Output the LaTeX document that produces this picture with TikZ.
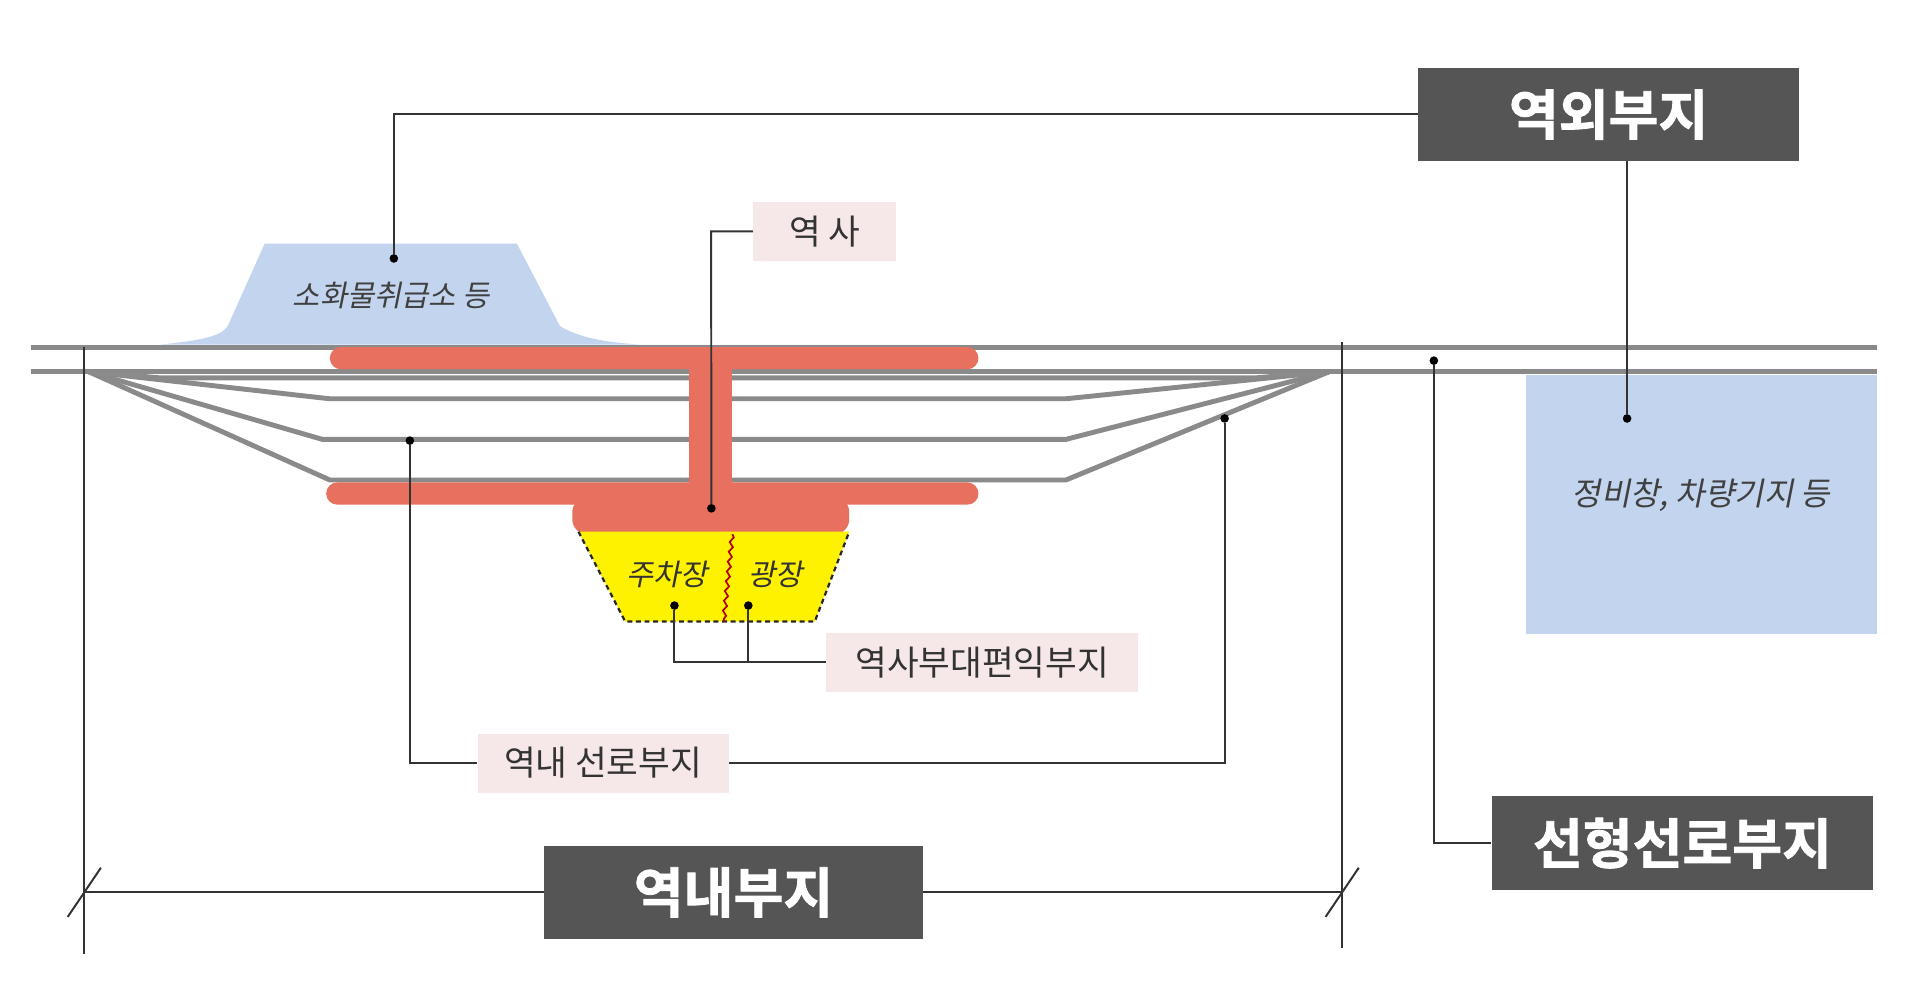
\documentclass[tikz,border=0pt]{standalone}
\usepackage{fontspec}
\setmainfont{Noto Sans CJK KR}
\newfontfamily\krit[FakeSlant=0.2]{Noto Sans CJK KR}
\newfontfamily\krb[BoldFont=*,FakeBold=1.5]{Noto Sans CJK KR Bold}
\usetikzlibrary{decorations.pathmorphing}
\definecolor{boxgray}{HTML}{555555}
\definecolor{track}{HTML}{8A8A8A}
\definecolor{redb}{HTML}{E8705E}
\definecolor{blueb}{HTML}{C2D4EE}
\definecolor{pinkl}{HTML}{F6E8E8}
\begin{document}
\begin{tikzpicture}[x=1pt,y=-1pt,
  bigbox/.style={fill=boxgray,text=white,font=\krb\fontsize{44}{48}\selectfont,minimum height=76pt,inner sep=0pt},
  lab/.style={fill=pinkl,text=black!80,font=\fontsize{28}{30}\selectfont,minimum height=48pt,inner sep=6pt},
  ln/.style={line width=1.6pt,black!80},
  tr/.style={line width=4pt,track,line join=round},
  dot/.style={circle,fill=black,inner sep=0pt,minimum size=7pt}]
\useasboundingbox (0,0) rectangle (1560,812);
% blue shapes
\fill[blueb] (130,280) .. controls (170,276) and (180,272) .. (185,265) -- (215,198) -- (420,198) -- (455,265) .. controls (470,274) and (490,278) .. (520,280) -- cycle;
\node[font=\krit\fontsize{24}{26}\selectfont,text=black!75] (sh) at (318,240) {소화물취급소 등};
\fill[blueb] (1240,305) rectangle (1525,515);
\node[font=\krit\fontsize{26}{28}\selectfont,text=black!75] (jb) at (1382,402) {정비창, 차량기지 등};
% tracks
\draw[tr] (25,282) -- (1525,282);
\draw[tr] (25,302) -- (1525,302);
\draw[tr] (72,302) -- (130,307) -- (1020,307) -- (1080,302);
\draw[tr] (72,302) -- (268,324) -- (866,324) -- (1080,302);
\draw[tr] (72,302) -- (262,357) -- (866,357) -- (1080,302);
\draw[tr] (72,302) -- (268,390) -- (866,390) -- (1080,302);
% red station
\fill[redb,rounded corners=9pt] (268,282) rectangle (795,300);
\fill[redb,rounded corners=9pt] (265,392) rectangle (795,410);
\fill[redb] (560,296) rectangle (595,405);
\fill[redb,rounded corners=12pt] (465,404) rectangle (690,434);
% yellow
\fill[yellow] (470,432) -- (690,432) -- (662,505) -- (508,505) -- cycle;
\draw[line width=1.8pt,black!85,dash pattern=on 4pt off 3pt] (470,432) -- (508,505) -- (662,505) -- (690,432);
\draw[red!70!black,line width=1.4pt,decorate,decoration={snake,amplitude=1.5pt,segment length=8pt}] (595,434) -- (588,505);
\node[font=\krit\fontsize{24}{26}\selectfont,text=black!80] (pk) at (542,467) {주차장};
\node[font=\krit\fontsize{24}{26}\selectfont,text=black!80] (sq) at (630,467) {광장};
% boundaries
\draw[ln] (68,282) -- (68,775);
\draw[ln] (1090,278) -- (1090,770);
\draw[ln] (68,725) -- (1090,725);
\draw[ln] (55,745) -- (82,705);
\draw[ln] (1077,745) -- (1104,705);
% boxes
\node[bigbox,minimum width=308pt] (nb) at (596,725) {역내부지};
\node[bigbox,minimum width=310pt] (ob) at (1307,93) {역외부지};
\node[bigbox,minimum width=310pt] (sb) at (1367,685) {선형선로부지};
\node[lab,minimum width=116pt] (ys) at (670,188) {역 사};
\node[lab,minimum width=253pt] (pb) at (798,538) {역사부대편익부지};
\node[lab,minimum width=204pt] (nl) at (490,620) {역내 선로부지};
% dots
\node[dot] (d1) at (320,210) {};
\node[dot] (d2) at (1322,340) {};
\node[dot] (d3) at (578,413) {};
\node[dot] (d4) at (548,492) {};
\node[dot] (d5) at (608,492) {};
\node[dot] (d6) at (333,358) {};
\node[dot] (d7) at (995,340) {};
\node[dot] (d8) at (1165,293) {};
% leaders
\draw[ln] (ob.west) -- (320,93) -- (d1);
\draw[ln] (ob.south -| d2) -- (d2);
\draw[ln] (ys.west) -- ++(-34,0) -- (d3);
\draw[ln] (d4) -- (548,538) -- (pb.west);
\draw[ln] (d5) -- (608,538);
\draw[ln] (d6) -- (333,620) -- (nl.west);
\draw[ln] (nl.east) -- (995,620) -- (d7);
\draw[ln] (d8) -- (1165,685) -- (sb.west);
\end{tikzpicture}
\end{document}
